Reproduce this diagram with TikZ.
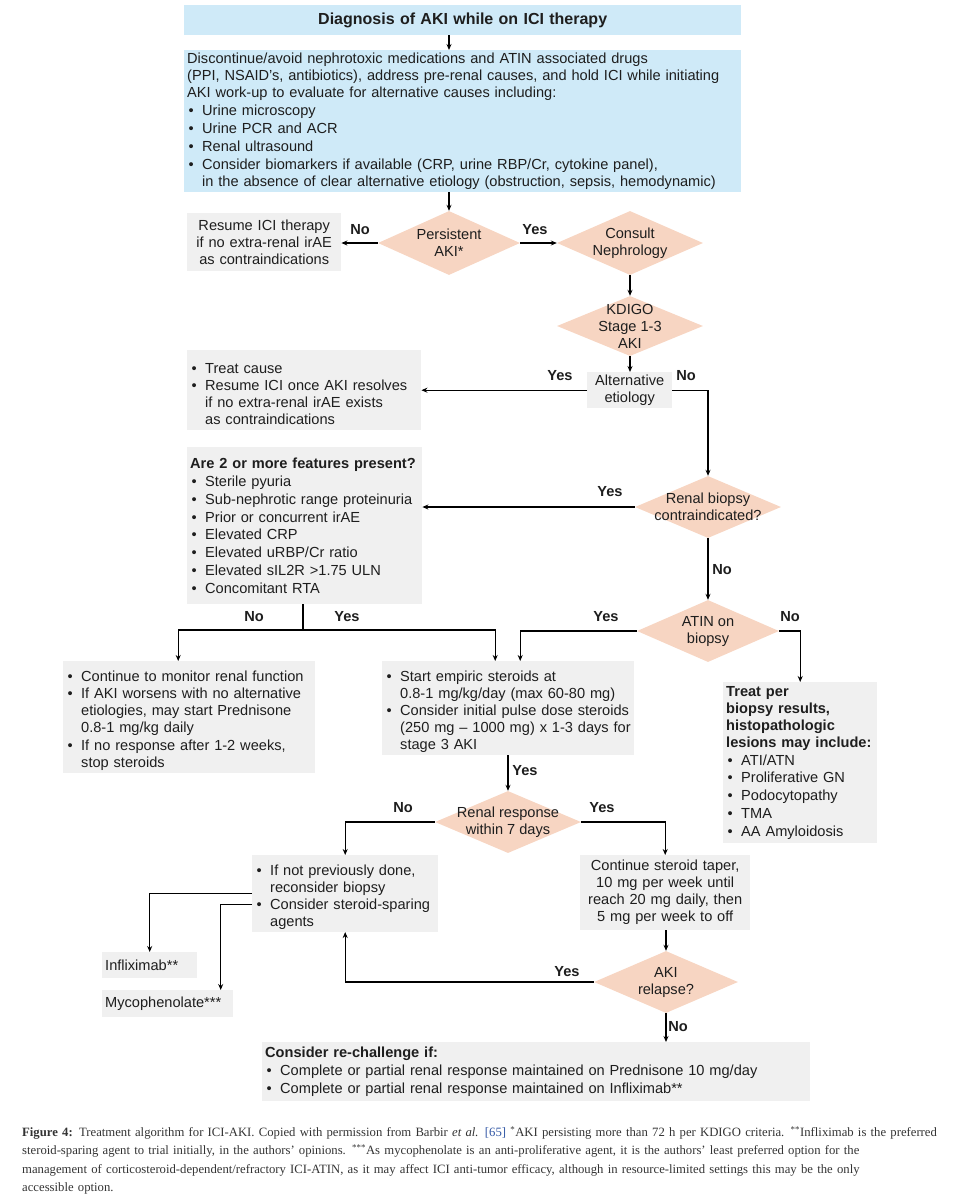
\documentclass[tikz,border=0pt]{standalone}
\usepackage{fontspec}
\setmainfont{Liberation Sans}
\newfontfamily\capfont{Liberation Serif}
\usetikzlibrary{arrows.meta,shapes.geometric,calc}

\definecolor{skyfill}{HTML}{CFEAF8}
\definecolor{peachfill}{HTML}{F7D5C2}
\definecolor{greyfill}{HTML}{F0F0F0}
\definecolor{bodytext}{HTML}{1E1E1E}
\definecolor{captext}{HTML}{333333}
\definecolor{reftext}{HTML}{2F55A4}

\hyphenpenalty=10000
\exhyphenpenalty=10000
\newcommand\fsz{\fontsize{14.6pt}{17pt}\selectfont}
\newcommand\bitem[1]{\par\vskip0.8pt\hangindent=15pt\hangafter=1\noindent\makebox[15pt][l]{\hspace{1.5pt}\textbullet}{\let\\\newline#1}\par}

\tikzset{
  box/.style={anchor=north west, inner xsep=3pt, inner ysep=2pt, font=\fsz, align=left, text=bodytext},
  bluebox/.style={box, fill=skyfill},
  greybox/.style={box, fill=greyfill},
  decision/.style={diamond, fill=peachfill, inner sep=0pt},
  dtext/.style={font=\fsz, align=center, text=bodytext},
  lab/.style={font=\fsz\bfseries, text=bodytext},
  ln/.style={line width=1.1pt},
  arr/.style={ln, -{Stealth[length=6pt,width=5pt]}},
}

\begin{document}
\begin{tikzpicture}[x=1pt,y=-1pt]
    \useasboundingbox (0,0) rectangle (961,1200);

    % top of the algorithm
    \node[bluebox, align=center, text width=551pt, minimum height=30pt, font=\fontsize{16pt}{18pt}\selectfont\bfseries] (title) at (184,5) {Diagnosis of AKI while on ICI therapy};
    \node[bluebox, text width=551pt, minimum height=142pt] (workup) at (184,50) {Discontinue/avoid nephrotoxic medications and ATIN associated drugs\\
        (PPI, NSAID’s, antibiotics), address pre-renal causes, and hold ICI while initiating\\
        AKI work-up to evaluate for alternative causes including:
        \bitem{Urine microscopy}
        \bitem{Urine PCR and ACR}
        \bitem{Renal ultrasound}
        \bitem{Consider biomarkers if available (CRP, urine RBP/Cr, cytokine panel),\\ in the absence of clear alternative etiology (obstruction, sepsis, hemodynamic)}};

    \node[decision, minimum width=142pt, minimum height=64pt, label={[dtext]center:Persistent\\AKI*}] (per) at (449,243) {};
    \node[greybox, align=center, text width=148pt, minimum height=58pt] (resume) at (187,213) {Resume ICI therapy\\ if no extra-renal irAE\\ as contraindications};
    \node[decision, minimum width=146pt, minimum height=64pt, label={[dtext]center:Consult\\Nephrology}] (cons) at (630,243) {};
    \node[decision, minimum width=146pt, minimum height=60pt, label={[dtext]center:KDIGO\\Stage 1-3\\AKI}] (kdigo) at (630,326) {};
    \node[greybox, align=center, text width=79pt, minimum height=36pt] (alt) at (587,372) {Alternative\\etiology};
    \node[greybox, text width=228pt, minimum height=80pt] (treat) at (187,350) {\bitem{Treat cause}
        \bitem{Resume ICI once AKI resolves\\ if no extra-renal irAE exists\\ as contraindications}};

    % biopsy branch
    \node[decision, minimum width=146pt, minimum height=62pt, label={[dtext]center:Renal biopsy\\contraindicated?}] (rbc) at (708,507) {};
    \node[greybox, text width=229pt, minimum height=157pt] (feat) at (187,447) {\textbf{Are 2 or more features present?}
        \bitem{Sterile pyuria}
        \bitem{Sub-nephrotic range proteinuria}
        \bitem{Prior or concurrent irAE}
        \bitem{Elevated CRP}
        \bitem{Elevated uRBP/Cr ratio}
        \bitem{Elevated sIL2R >1.75 ULN}
        \bitem{Concomitant RTA}};
    \node[decision, minimum width=142pt, minimum height=62pt, label={[dtext]center:ATIN on\\biopsy}] (atin) at (708,631) {};

    \node[greybox, text width=246pt, minimum height=111pt] (monitor) at (63,661) {\bitem{Continue to monitor renal function}
        \bitem{If AKI worsens with no alternative\\ etiologies, may start Prednisone\\ 0.8-1 mg/kg daily}
        \bitem{If no response after 1-2 weeks,\\ stop steroids}};
    \node[greybox, text width=246pt, minimum height=92pt] (empiric) at (382,661) {\bitem{Start empiric steroids at\\ \,0.8-1 mg/kg/day (max 60-80 mg)}
        \bitem{Consider initial pulse dose steroids\\ (250 mg – 1000 mg) x 1-3 days for\\ stage 3 AKI}};
    \node[greybox, text width=148pt, minimum height=161pt] (biopsy) at (723,682) {{\bfseries Treat per\\ biopsy results,\\ histopathologic\\ lesions may include:}
        \bitem{ATI/ATN}
        \bitem{Proliferative GN}
        \bitem{Podocytopathy}
        \bitem{TMA}
        \bitem{AA Amyloidosis}};

    % steroid response
    \node[decision, minimum width=146pt, minimum height=62pt, label={[dtext]center:Renal response\\within 7 days}] (resp) at (508,822) {};
    \node[greybox, text width=180pt, minimum height=75pt] (ifnot) at (252,855) {\bitem{If not previously done,\\ reconsider biopsy}
        \bitem{Consider steroid-sparing\\ agents}};
    \node[greybox, align=center, text width=164pt, minimum height=75pt] (taper) at (580,855) {Continue steroid taper,\\ 10 mg per week until\\ reach 20 mg daily, then\\ 5 mg per week to off};
    \node[decision, minimum width=144pt, minimum height=62pt, label={[dtext]center:AKI\\relapse?}] (relap) at (666,982) {};
    \node[greybox, text width=89pt, minimum height=26pt] (inflix) at (102,952) {Infliximab**};
    \node[greybox, text width=125pt, minimum height=27pt] (myco) at (102,990) {Mycophenolate***};
    \node[greybox, text width=542pt, minimum height=59pt] (rech) at (262,1042) {\textbf{Consider re-challenge if:}
        \bitem{Complete or partial renal response maintained on Prednisone 10 mg/day}
        \bitem{Complete or partial renal response maintained on Infliximab**}};

    % yes / no labels
    \node[lab] (noA) at (360,230) {No};
    \node[lab] (yesA) at (535,230) {Yes};
    \node[lab] (yesB) at (560,376) {Yes};
    \node[lab] (noB) at (686,376) {No};
    \node[lab] (yesC) at (610,492) {Yes};
    \node[lab] (noC) at (722,570) {No};
    \node[lab] (noD) at (254,617) {No};
    \node[lab] (yesD) at (347,617) {Yes};
    \node[lab] (yesE) at (606,617) {Yes};
    \node[lab] (noE) at (790,617) {No};
    \node[lab] (yesF) at (525,771) {Yes};
    \node[lab] (noF) at (403,808) {No};
    \node[lab] (yesG) at (602,808) {Yes};
    \node[lab] (yesH) at (567,972) {Yes};
    \node[lab] (noH) at (678,1027) {No};

    % connectors
    \draw[arr] (title.south -| per.north) -- (workup.north -| per.north);
    \draw[arr] (workup.south -| per.north) -- (per.north);
    \draw[arr] (per.west) -- (resume.east |- per.west);
    \draw[arr] (per.east) -- (cons.west);
    \draw[arr] (cons.south) -- (kdigo.north);
    \draw[arr] (kdigo.south) -- (alt.north -| kdigo.south);
    \draw[arr] (alt.west) -- (treat.east |- alt.west);
    \draw[arr] (alt.east) -| (rbc.north);
    \draw[arr] (rbc.west) -- (feat.east |- rbc.west);
    \draw[arr] (rbc.south) -- (atin.north);
    \coordinate (split) at (303,630);
    \draw[ln] (feat.south -| split) -- (split);
    \draw[arr] (split) -| ($(monitor.north)+(-11,0)$);
    \draw[arr] (split) -| ($(empiric.north)+(-13,0)$);
    \draw[arr] (atin.west) -| ($(empiric.north)+(12,0)$);
    \draw[arr] (atin.east) -| (biopsy.north);
    \draw[arr] (empiric.south -| resp.north) -- (resp.north);
    \draw[arr] (resp.west) -| (ifnot.north);
    \draw[arr] (resp.east) -| (taper.north);
    \draw[arr] (taper.south -| relap.north) -- (relap.north);
    \draw[arr] (relap.west) -| (ifnot.south);
    \draw[arr] (relap.south) -- (rech.north -| relap.south);
    \draw[arr] (ifnot.west) -| (inflix.north);
    \draw[arr] ($(ifnot.west)+(0,11)$) -| ($(myco.north)+(53,0)$);

    % caption
    \node[anchor=north west, inner sep=0pt, text width=918pt, align=left, text=captext, font=\capfont\fontsize{12.7pt}{18.4pt}\selectfont] (cap) at (22,1126) {%
        \makebox[918pt][s]{\textbf{Figure 4:} Treatment algorithm for ICI-AKI. Copied with permission from Barbir \textit{et al.} \textcolor{reftext}{[65]} \textsuperscript{*}AKI persisting more than 72 h per KDIGO criteria. \textsuperscript{**}Infliximab is the preferred}\\
        \makebox[918pt][s]{steroid-sparing agent to trial initially, in the authors’ opinions. \textsuperscript{***}As mycophenolate is an anti-proliferative agent, it is the authors’ least preferred option for the}\\
        \makebox[918pt][s]{management of corticosteroid-dependent/refractory ICI-ATIN, as it may affect ICI anti-tumor efficacy, although in resource-limited settings this may be the only}\\
        accessible option.};
\end{tikzpicture}
\end{document}
